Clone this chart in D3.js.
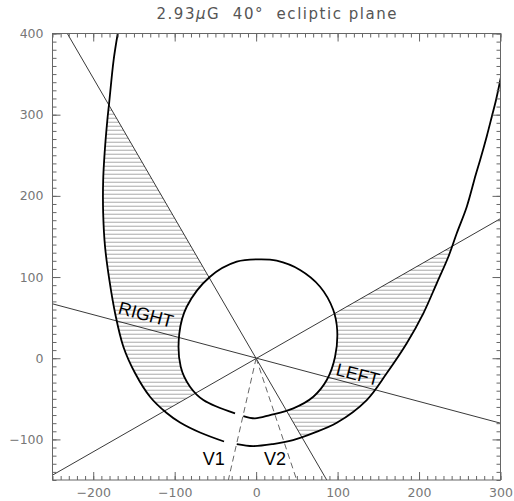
<!DOCTYPE html>
<html>
<head>
<meta charset="utf-8">
<script src="https://cdn.jsdelivr.net/npm/d3@7"></script>
<style>
  html, body { margin: 0; padding: 0; background: #fff; }
  svg { display: block; }
  text { white-space: pre; }
</style>
</head>
<body>
<svg id="chart" width="514" height="501"></svg>
<script>
// ---------------- data ----------------
const xDomain = [-250, 300];
const yDomain = [-150, 400];
const xTickValues = [-200, -100, 0, 100, 200, 300];
const yTickValues = [-100, 0, 100, 200, 300, 400];
const minorStep = 10;

const titleParts = ["2.93", "\u03bc", "G  40\u00b0  ecliptic plane"];

// outer U-shaped boundary, left piece (ends at the V1 gap)
const uLeft = [
  [-169.9, 400], [-175.0, 367.0], [-180.5, 314.0], [-182.7, 293.0], [-186.0, 253.0],
  [-187.8, 219.0], [-187.8, 179.0], [-185.5, 137.4], [-180.2, 96.4], [-173.2, 55.7],
  [-163.0, 14.2], [-148.7, -18.2], [-130.3, -47.4], [-109.8, -67.5], [-93.4, -79.2],
  [-68.9, -91.5], [-39.4, -102.6]
];
// outer U-shaped boundary, right piece
const uRight = [
  [-23.8, -105.7], [-3.8, -108.2], [20.7, -105.7], [45.3, -100.8], [69.9, -92.2],
  [99.0, -79.5], [135.8, -51.5], [160.3, -18.6], [184.9, 18.4], [205.3, 55.3],
  [221.7, 92.3], [236.0, 125.0], [246.3, 153.9], [258.6, 186.6], [269.5, 225.7],
  [275.0, 244.2], [283.0, 272.9], [289.3, 297.5], [294.5, 318.1], [300.3, 345.2]
];
// inner closed boundary (drawn open: gap near V1)
const inner = [
  [-15.7, -71.2], [-1.4, -74.0], [17.1, -70.0], [45.7, -61.7], [70.2, -47.4],
  [86.7, -26.9], [96.9, 1.8], [99.5, 34.7], [94.5, 60.0], [78.5, 88.1],
  [53.9, 108.7], [25.3, 120.1], [4.8, 121.8], [-23.8, 118.9], [-56.6, 100.4],
  [-85.2, 63.4], [-94.3, 30.7], [-92.6, -10.5], [-81.2, -35.1], [-64.8, -51.5],
  [-25.9, -67.9]
];
// straight lines through the origin
const lineA = [[-231.8, 400], [86.7, -150]];   // steep line
const lineB = [[-250, 67], [300, -80]];        // RIGHT / LEFT axis
const lineC = [[-250, -144], [300, 172]];      // rising line
const dashV1 = [[0, 0], [-34.1, -150]];
const dashV2 = [[0, 0], [49.8, -150]];

const labels = [
  { text: "RIGHT", x: -170.4, y: 55.3, rot: 15 },
  { text: "LEFT",  x: 96.9,   y: -20.7, rot: 14.5 },
  { text: "V1",    x: -52.0,  y: -131.6, rot: 0, mid: true },
  { text: "V2",    x: 23.2,   y: -131.6, rot: 0, mid: true }
];

// ---------------- layout ----------------
const svg = d3.select("#chart");
const x = d3.scaleLinear().domain(xDomain).range([52.5, 500.5]);
const y = d3.scaleLinear().domain(yDomain).range([480, 33.5]);
const X0 = x.range()[0], X1 = x.range()[1], Y0 = y.range()[1], Y1 = y.range()[0];

const defs = svg.append("defs");
defs.append("clipPath").attr("id", "plotClip")
  .append("rect").attr("x", X0).attr("y", Y0).attr("width", X1 - X0).attr("height", Y1 - Y0);

// hatch pattern
const pat = defs.append("pattern").attr("id", "hatch")
  .attr("patternUnits", "userSpaceOnUse")
  .attr("x", 0).attr("y", y(0) - 0.5)
  .attr("width", 12).attr("height", 4);
pat.append("line").attr("x1", 0).attr("x2", 12).attr("y1", 0.5).attr("y2", 0.5)
  .attr("stroke", "#a8a8a8").attr("stroke-width", 1);

// wedges (built from the line end points, extended outward)
const ext = p => [p[0] * 10, p[1] * 10];
const wedges = [
  [[0, 0], ext(lineA[0]), ext(lineC[0])],
  [[0, 0], ext(lineC[1]), ext(lineA[1])]
];
const wedgeClip = defs.append("clipPath").attr("id", "wedgeClip");
wedgeClip.selectAll("path").data(wedges).join("path")
  .attr("d", w => "M" + w.map(p => x(p[0]) + "," + y(p[1])).join("L") + "Z");

const plot = svg.append("g").attr("clip-path", "url(#plotClip)");

const smooth = d3.line().x(d => x(d[0])).y(d => y(d[1])).curve(d3.curveCatmullRom.alpha(0.5));
const straight = d3.line().x(d => x(d[0])).y(d => y(d[1]));
const closedSmooth = d3.line().x(d => x(d[0])).y(d => y(d[1])).curve(d3.curveCatmullRomClosed.alpha(0.5));

// hatched region: (inside U) minus (inside inner curve), within the wedges
const uAll = uLeft.concat(uRight);
plot.append("g").attr("clip-path", "url(#wedgeClip)")
  .append("path")
  .attr("d", smooth(uAll) + "Z" + closedSmooth(inner))
  .attr("fill", "url(#hatch)")
  .attr("fill-rule", "evenodd");

// straight lines
[lineA, lineB, lineC].forEach(l => {
  plot.append("path").attr("d", straight(l))
    .attr("fill", "none").attr("stroke", "#222").attr("stroke-width", 0.9);
});
[dashV1, dashV2].forEach(l => {
  plot.append("path").attr("d", straight(l))
    .attr("fill", "none").attr("stroke", "#555").attr("stroke-width", 0.9)
    .attr("stroke-dasharray", "6,4");
});

// curves
[uLeft, uRight, inner].forEach(c => {
  plot.append("path").attr("d", smooth(c))
    .attr("fill", "none").attr("stroke", "#000").attr("stroke-width", 1.8)
    .attr("stroke-linejoin", "round");
});

// labels
labels.forEach(l => {
  svg.append("text")
    .attr("transform", `translate(${x(l.x)},${y(l.y)}) rotate(${l.rot})`)
    .attr("text-anchor", l.mid ? "middle" : "start")
    .attr("font-family", "'Liberation Sans', Arial, sans-serif")
    .attr("font-size", 18)
    .attr("fill", "#000")
    .text(l.text);
});

// ---------------- axes ----------------
const axisColor = "#666";
const labelColor = "#777";
const xMinor = d3.range(xDomain[0], xDomain[1] + 0.01, minorStep);
const yMinor = d3.range(yDomain[0], yDomain[1] + 0.01, minorStep);

function styleAxis(g) {
  g.select(".domain").remove();
  g.selectAll(".tick line").attr("stroke", axisColor);
  g.selectAll(".tick text").attr("fill", labelColor)
    .attr("font-family", "'DejaVu Sans', sans-serif").attr("font-size", 12.5);
}

// bottom
svg.append("g").attr("transform", `translate(0,${Y1})`)
  .call(d3.axisBottom(x).tickValues(xMinor).tickSize(-4).tickFormat(""))
  .call(styleAxis);
svg.append("g").attr("transform", `translate(0,${Y1})`)
  .call(d3.axisBottom(x).tickValues(xTickValues).tickSize(-8).tickPadding(8.6).tickFormat(d3.format("d")))
  .call(styleAxis);
// top
svg.append("g").attr("transform", `translate(0,${Y0})`)
  .call(d3.axisTop(x).tickValues(xMinor).tickSize(-4).tickFormat(""))
  .call(styleAxis);
svg.append("g").attr("transform", `translate(0,${Y0})`)
  .call(d3.axisTop(x).tickValues(xTickValues).tickSize(-8).tickFormat(""))
  .call(styleAxis);
// left
svg.append("g").attr("transform", `translate(${X0},0)`)
  .call(d3.axisLeft(y).tickValues(yMinor).tickSize(-4).tickFormat(""))
  .call(styleAxis);
svg.append("g").attr("transform", `translate(${X0},0)`)
  .call(d3.axisLeft(y).tickValues(yTickValues).tickSize(-8).tickPadding(9).tickFormat(d3.format("d")))
  .call(styleAxis);
// right
svg.append("g").attr("transform", `translate(${X1},0)`)
  .call(d3.axisRight(y).tickValues(yMinor).tickSize(-4).tickFormat(""))
  .call(styleAxis);
svg.append("g").attr("transform", `translate(${X1},0)`)
  .call(d3.axisRight(y).tickValues(yTickValues).tickSize(-8).tickFormat(""))
  .call(styleAxis);

// frame
svg.append("rect").attr("x", X0).attr("y", Y0).attr("width", X1 - X0).attr("height", Y1 - Y0)
  .attr("fill", "none").attr("stroke", axisColor).attr("stroke-width", 1);

// title
const title = svg.append("text")
  .attr("x", 156.5).attr("y", 19)
  .attr("font-family", "'DejaVu Sans', sans-serif")
  .attr("font-size", 15)
  .attr("fill", "#555")
  .attr("textLength", 240)
  .attr("lengthAdjust", "spacing");
title.append("tspan").text(titleParts[0]);
title.append("tspan").attr("font-style", "italic").text(titleParts[1]);
title.append("tspan").text(titleParts[2]);
</script>
</body>
</html>
